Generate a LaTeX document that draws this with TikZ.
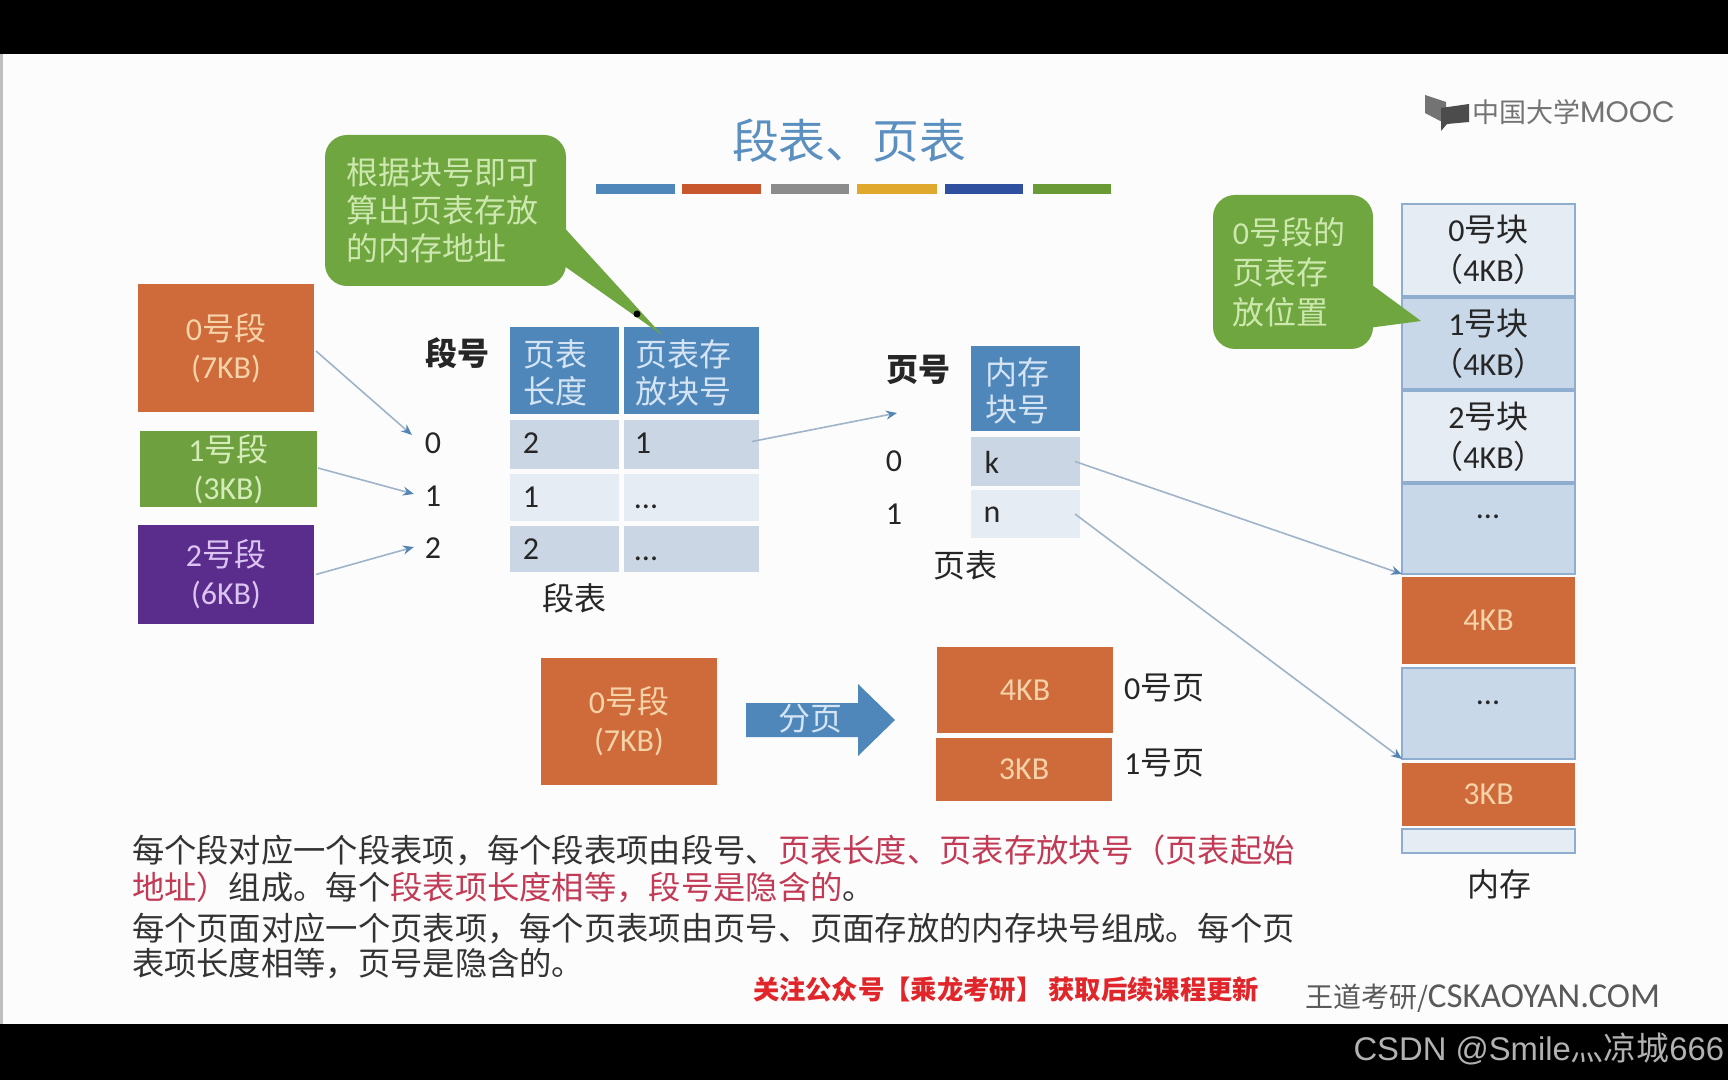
\documentclass[tikz,border=0pt]{standalone}
\usepackage{fontspec}
\usetikzlibrary{arrows.meta}
\setmainfont{Noto Sans CJK SC}
\newfontfamily\latfam{Carlito}
\newfontfamily\logofam{Poppins}
\newfontfamily\wmfam{Liberation Sans}
\newcommand\ltn[1]{{\latfam #1}}
\newcommand\fsz[2]{\fontsize{#1}{#2}\selectfont}
\definecolor{hdrblue}{HTML}{4F87BB}
\definecolor{rowdk}{HTML}{CBD6E4}
\definecolor{rowlt}{HTML}{E6ECF4}
\definecolor{memdk}{HTML}{C9D8E9}
\definecolor{memlt}{HTML}{E6ECF4}
\definecolor{memline}{HTML}{8FAECF}
\definecolor{segorange}{HTML}{CF6A3A}
\definecolor{seggreen}{HTML}{6FA040}
\definecolor{segpurple}{HTML}{5A2C8C}
\definecolor{callgreen}{HTML}{6FA63F}
\definecolor{calltext}{HTML}{CDE8AE}
\definecolor{orgtext}{HTML}{F6D2A8}
\definecolor{grntext}{HTML}{D4EDB8}
\definecolor{purtext}{HTML}{DCC4F2}
\definecolor{hdrtext}{HTML}{D4E4F4}
\definecolor{titleblue}{HTML}{5A8FC0}
\definecolor{redtext}{HTML}{C23A55}
\definecolor{adred}{HTML}{E0262A}
\definecolor{linkgrey}{HTML}{9FB4C9}
\definecolor{tipblue}{HTML}{5585B5}
\definecolor{bodytext}{HTML}{333333}
\definecolor{barorange}{HTML}{C8572E}
\definecolor{bargold}{HTML}{E0A92E}
\definecolor{barnavy}{HTML}{2F4F9F}
\definecolor{bargreen}{HTML}{6A9A35}
\tikzset{
  rect/.style={rectangle,inner sep=0pt,outer sep=0pt},
  txt/.style={inner sep=0pt,outer sep=0pt,align=center},
  lab/.style={txt,text=black!85,font=\fsz{16}{19}},
  num/.style={txt,text=black!85,font=\latfam\fsz{16}{19}},
  hdr/.style={txt,align=left,text=hdrtext,font=\fsz{16}{18.5}},
  para/.style={inner sep=0pt,outer sep=0pt,anchor=west,text=bodytext,font=\fsz{16.15}{19}},
  link/.style={line width=0.8pt,draw=linkgrey,-{Stealth[color=tipblue,length=5.5pt,width=4.5pt]}},
  mem/.style={rect,draw=memline,line width=0.6pt},
  call/.style={rect,fill=callgreen,rounded corners=11pt,align=left,text=calltext},
}
\newcommand\bx[7][]{%
  \pgfmathsetmacro\cxx{(#3+#5)/2}\pgfmathsetmacro\cyy{(#4+#6)/2}%
  \pgfmathsetmacro\www{(#5-#3)*0.5}\pgfmathsetmacro\hhh{(#6-#4)*0.5}%
  \node[rect,minimum width=\www pt,minimum height=\hhh pt,#1] (#2) at (\cxx,\cyy) {#7};}
\begin{document}
\begin{tikzpicture}[x=0.5pt,y=-0.5pt]
\useasboundingbox (0,0) rectangle (1728,1080);
\fill[white!99!black] (0,0) rectangle (1728,1080);
\fill[black] (0,0) rectangle (1728,54);
\fill[black] (0,1024) rectangle (1728,1080);
\fill[black!25] (0,54) rectangle (3,1024);
% title
\node[txt,text=titleblue,font=\fsz{23.4}{26}] (title) at (849,141) {段表、页表};
\fill[hdrblue] (596,184) rectangle (675,194);
\fill[barorange] (682,184) rectangle (761,194);
\fill[black!45] (771,184) rectangle (849,194);
\fill[bargold] (857,184) rectangle (937,194);
\fill[barnavy] (945,184) rectangle (1023,194);
\fill[bargreen] (1033,184) rectangle (1111,194);
% logo
\fill[black!55] (1425,95) -- (1446,102) -- (1446,124) -- (1425,113) -- cycle;
\fill[black!70] (1441,108) -- (1469,104) -- (1469,122) -- (1447,124) -- (1441,131) -- cycle;
\node[txt,anchor=west,text=black!55,font=\fsz{13.5}{16}] (logo) at (1472,112) {中国大学{\logofam\fsz{14.8}{16}MOOC}};
% segments
\bx[fill=segorange,text=orgtext,align=center,font=\fsz{16}{19}]{seg0}{138}{284}{314}{412}{\ltn{0}号段\\\ltn{(7KB)}}
\bx[fill=seggreen,text=grntext,align=center,font=\fsz{16}{19}]{seg1}{140}{431}{317}{507}{\ltn{1}号段\\\ltn{(3KB)}}
\bx[fill=segpurple,text=purtext,align=center,font=\fsz{16}{19}]{seg2}{138}{525}{314}{624}{\ltn{2}号段\\\ltn{(6KB)}}
% segment numbers
\node[lab,font=\bfseries\fsz{16}{19}] (segno) at (457,353) {段号};
\node[num] (d0) at (433,443) {0};
\node[num] (d1) at (433,496) {1};
\node[num] (d2) at (433,548) {2};
% segment table
\bx[fill=hdrblue]{sh1}{510}{327}{619}{414}{}
\bx[fill=hdrblue]{sh2}{624}{327}{759}{414}{}
\node[hdr,anchor=west] (sh1t) at (523,373) {页表\\长度};
\node[hdr,anchor=west] (sh2t) at (635,373) {页表存\\放块号};
\bx[fill=rowdk]{s0a}{510}{420}{619}{469}{}
\bx[fill=rowdk]{s0b}{624}{420}{759}{469}{}
\bx[fill=rowlt]{s1a}{510}{474}{619}{521}{}
\bx[fill=rowlt]{s1b}{624}{474}{759}{521}{}
\bx[fill=rowdk]{s2a}{510}{526}{619}{572}{}
\bx[fill=rowdk]{s2b}{624}{526}{759}{572}{}
\node[num] (t00) at (531,443) {2};
\node[num] (t01) at (643,443) {1};
\node[num] (t10) at (531,497) {1};
\node[num,anchor=base] (t11) at (646,508) {...};
\node[num] (t20) at (531,549) {2};
\node[num,anchor=base] (t21) at (646,560) {...};
\node[lab] (segcap) at (574,598) {段表};
% page table
\node[lab,font=\bfseries\fsz{16}{19}] (pageno) at (918,370) {页号};
\bx[fill=hdrblue]{ph}{971}{346}{1080}{431}{}
\node[hdr,anchor=west] (pht) at (985,391) {内存\\块号};
\bx[fill=rowdk]{p0}{971}{437}{1080}{486}{}
\bx[fill=rowlt]{p1}{971}{490}{1080}{538}{}
\node[num] (pk) at (992,462) {k};
\node[num] (pn) at (992,515) {n};
\node[num] (q0) at (894,461) {0};
\node[num] (q1) at (894,514) {1};
\node[lab] (pagecap) at (965,565) {页表};
\coordinate (ptin) at (897,413);
% bottom split
\bx[fill=segorange,text=orgtext,align=center,font=\fsz{16}{19}]{segb}{541}{658}{717}{785}{\ltn{0}号段\\\ltn{(7KB)}}
\fill[hdrblue] (746,703) -- (858,703) -- (858,684) -- (895,720) -- (858,756) -- (858,737) -- (746,737) -- cycle;
\node[txt,text=hdrtext,font=\fsz{16}{19}] (split) at (810,719) {分页};
\bx[fill=segorange,text=orgtext,font=\latfam\fsz{16}{19}]{pg0}{937}{647}{1113}{733}{4KB}
\bx[fill=segorange,text=orgtext,font=\latfam\fsz{16}{19}]{pg1}{936}{738}{1112}{801}{3KB}
\node[lab,anchor=west] (pg0l) at (1124,688) {\ltn{0}号页};
\node[lab,anchor=west] (pg1l) at (1124,763) {\ltn{1}号页};
% memory
\bx[mem,fill=memlt,align=center,text=black!85,font=\fsz{16}{20}]{m0}{1402}{204}{1575}{296}{\ltn{0}号块\\（\ltn{4KB}）}
\bx[mem,fill=memdk,align=center,text=black!85,font=\fsz{16}{20}]{m1}{1402}{298}{1575}{389}{\ltn{1}号块\\（\ltn{4KB}）}
\bx[mem,fill=memlt,align=center,text=black!85,font=\fsz{16}{20}]{m2}{1402}{391}{1575}{482}{\ltn{2}号块\\（\ltn{4KB}）}
\bx[mem,fill=memdk]{m3}{1402}{484}{1575}{574}{}
\bx[rect,fill=segorange,text=orgtext,font=\latfam\fsz{16}{19}]{m4}{1402}{577}{1575}{664}{4KB}
\bx[mem,fill=memdk]{m5}{1402}{668}{1575}{759}{}
\bx[rect,fill=segorange,text=orgtext,font=\latfam\fsz{16}{19}]{m6}{1402}{763}{1575}{826}{3KB}
\bx[mem,fill=memlt]{m7}{1402}{829}{1575}{853}{}
\node[num,anchor=base] (m3d) at (1488,518) {...};
\node[num,anchor=base] (m5d) at (1488,704) {...};
\node[lab] (memcap) at (1499,884) {内存};
% callouts, over the tables
\fill[callgreen] (560,223) -- (662,335) -- (560,263) -- cycle;
\bx[call,font=\fsz{16}{19}]{callA}{325}{135}{566}{286}{根据块号即可\hspace*{3.3pt}\\算出页表存放\\的内存地址}
\fill[black] (637,314) circle (3.5);
\fill[callgreen] (1368,282) -- (1421,321) -- (1368,328) -- cycle;
\bx[call,font=\fsz{16}{20}]{callB}{1213}{195}{1373}{349}{\ltn{0}号段的\hspace*{4pt}\\页表存\\放位置}
% connectors
\draw[link] ([shift={(2,3)}]seg0.east) -- ([shift={(-13,-8)}]d0.west);
\draw[link] ([shift={(1,-1)}]seg1.east) -- ([shift={(-11,-2)}]d1.west);
\draw[link] ([shift={(2,0)}]seg2.east) -- ([shift={(-11,-1)}]d2.west);
\draw[link] ([shift={(-7,-3)}]s0b.east) -- (ptin);
\draw[link] ([shift={(-5,0)}]p0.east) -- (m3.south west);
\draw[link] ([shift={(-5,0)}]p1.east) -- (m5.south west);
% paragraphs
\node[para] (l1) at (132,850) {每个段对应一个段表项，每个段表项由段号、\textcolor{redtext}{页表长度、页表存放块号（页表起始}};
\node[para] (l2) at (132,887) {\textcolor{redtext}{地址）}组成。每个\textcolor{redtext}{段表项长度相等，段号是隐含的}。};
\node[para] (l3) at (132,929) {每个页面对应一个页表项，每个页表项由页号、页面存放的内存块号组成。每个页};
\node[para] (l4) at (132,964) {表项长度相等，页号是隐含的。};
\node[txt,anchor=west,text=adred,font=\bfseries\fsz{13.16}{15}] (ad) at (753,989) {关注公众号【乘龙考研】 获取后续课程更新};
\node[txt,anchor=west,text=black!65,font=\fsz{14}{17}] (brand) at (1305,998) {王道考研/{\latfam\fsz{17.5}{17}CSKAOYAN.COM}};
\node[txt,anchor=east,text=black!30,font=\fsz{16.4}{18}] (wm) at (1724,1049) {{\wmfam CSDN @Smile}灬凉城{\wmfam 666}};
\end{tikzpicture}
\end{document}
